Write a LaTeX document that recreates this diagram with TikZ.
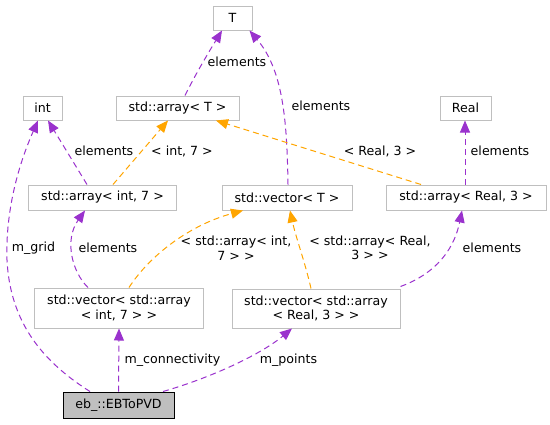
\documentclass[tikz,border=0pt]{standalone}
\usepackage{fontspec}
\setmainfont{DejaVu Sans}
\usetikzlibrary{arrows.meta}
\definecolor{purp}{HTML}{9A32CD}
\definecolor{orng}{HTML}{FFA500}
\definecolor{boxgray}{HTML}{BFBFBF}
\definecolor{mainfill}{HTML}{BFBFBF}
\newcommand{\lblfont}{\fontsize{12.6bp}{14.5bp}\selectfont}
\begin{document}
\begin{tikzpicture}[x=1bp,y=-1bp,
  cls/.style={draw=boxgray, line width=1bp, inner sep=0pt, font=\lblfont, align=center, fill=white},
  mainbox/.style={draw=black, fill=mainfill, line width=1bp, inner sep=0pt, font=\lblfont},
  lbl/.style={font=\lblfont, inner sep=0pt, align=center},
  member/.style={draw=purp, line width=1bp, dash pattern=on 6bp off 4bp, -{Triangle[length=12bp,width=10bp]}},
  templ/.style={draw=orng, line width=1bp, dash pattern=on 6bp off 4bp, -{Triangle[length=12bp,width=10bp]}}]
\useasboundingbox (0,0) rectangle (550,424);
% nodes
\node[cls, minimum width=39bp, minimum height=24bp] (T) at (232.5,18) {T};
\node[cls, minimum width=39bp, minimum height=24bp] (int) at (42.5,108) {int};
\node[cls, minimum width=123bp, minimum height=24bp] (arrT) at (177.5,108) {std::array< T >};
\node[cls, minimum width=51bp, minimum height=24bp] (Real) at (465.5,108) {Real};
\node[cls, minimum width=147bp, minimum height=25bp] (arrInt) at (102.5,197.5) {std::array< int, 7 >};
\node[cls, minimum width=130bp, minimum height=25bp] (vecT) at (287,197.5) {std::vector< T >};
\node[cls, minimum width=160bp, minimum height=25bp] (arrReal) at (466,197.5) {std::array< Real, 3 >};
\node[cls, minimum width=168bp, minimum height=40bp] (vecInt) at (119,308) {std::vector< std::array\\< int, 7 > >};
\node[cls, minimum width=168bp, minimum height=39bp] (vecReal) at (316,308.5) {std::vector< std::array\\< Real, 3 > >};
\node[mainbox, minimum width=111bp, minimum height=26bp] (main) at (118.5,405) {eb\_::EBToPVD};
% edges
\draw[member] ([xshift=7.5bp]arrT.north) .. controls (195,75) and (210,50) .. ([xshift=-10.5bp]T.south);
\draw[member] ([xshift=1bp]vecT.north) .. controls (287,120) and (283,70) .. ([xshift=17bp]T.south);
\draw[member] ([xshift=-15.5bp]arrInt.north) -- ([xshift=5.5bp]int.south);
\draw[templ] ([xshift=10.5bp]arrInt.north) -- ([xshift=-9.5bp]arrT.south);
\draw[templ] ([xshift=-45bp]arrReal.north) -- ([xshift=38.5bp]arrT.south);
\draw[member] ([xshift=-1bp]arrReal.north) -- ([xshift=-0.5bp]Real.south);
\draw[member] ([xshift=-31bp]vecInt.north) .. controls (72,272) and (64,240) .. ([xshift=-17.5bp]arrInt.south);
\draw[templ] ([xshift=10bp]vecInt.north) .. controls (150,255) and (190,225) .. ([xshift=-44bp]vecT.south);
\draw[templ] ([xshift=-5bp]vecReal.north) .. controls (305,262) and (296,238) .. ([xshift=3bp]vecT.south);
\draw[member] ([yshift=2bp]vecReal.north east) .. controls (440,272) and (455,245) .. ([xshift=-4bp]arrReal.south);
\draw[member] ([xshift=-28.5bp]main.north) .. controls (40,360) and (10,320) .. (7,260) .. controls (5,200) and (25,150) .. ([xshift=-4.5bp]int.south);
\draw[member] (main.north) -- (vecInt.south);
\draw[member] ([xshift=44.5bp]main.north) .. controls (210,378) and (260,355) .. ([xshift=-24bp]vecReal.south);
% labels
\node[lbl] (l1) at (237,62) {elements};
\node[lbl] (l2) at (321,106) {elements};
\node[lbl] (l3) at (104,151) {elements};
\node[lbl] (l4) at (182,151) {< int, 7 >};
\node[lbl] (l5) at (380,151) {< Real, 3 >};
\node[lbl] (l6) at (500,151) {elements};
\node[lbl] (l7) at (33.5,248) {m\_grid};
\node[lbl] (l8) at (108,248) {elements};
\node[lbl] (l9) at (236,248) {< std::array< int,\\7 > >};
\node[lbl] (l10) at (370,248) {< std::array< Real,\\3 > >};
\node[lbl] (l11) at (492,248) {elements};
\node[lbl] (l12) at (172.5,360) {m\_connectivity};
\node[lbl] (l13) at (288.5,360) {m\_points};
\end{tikzpicture}
\end{document}
